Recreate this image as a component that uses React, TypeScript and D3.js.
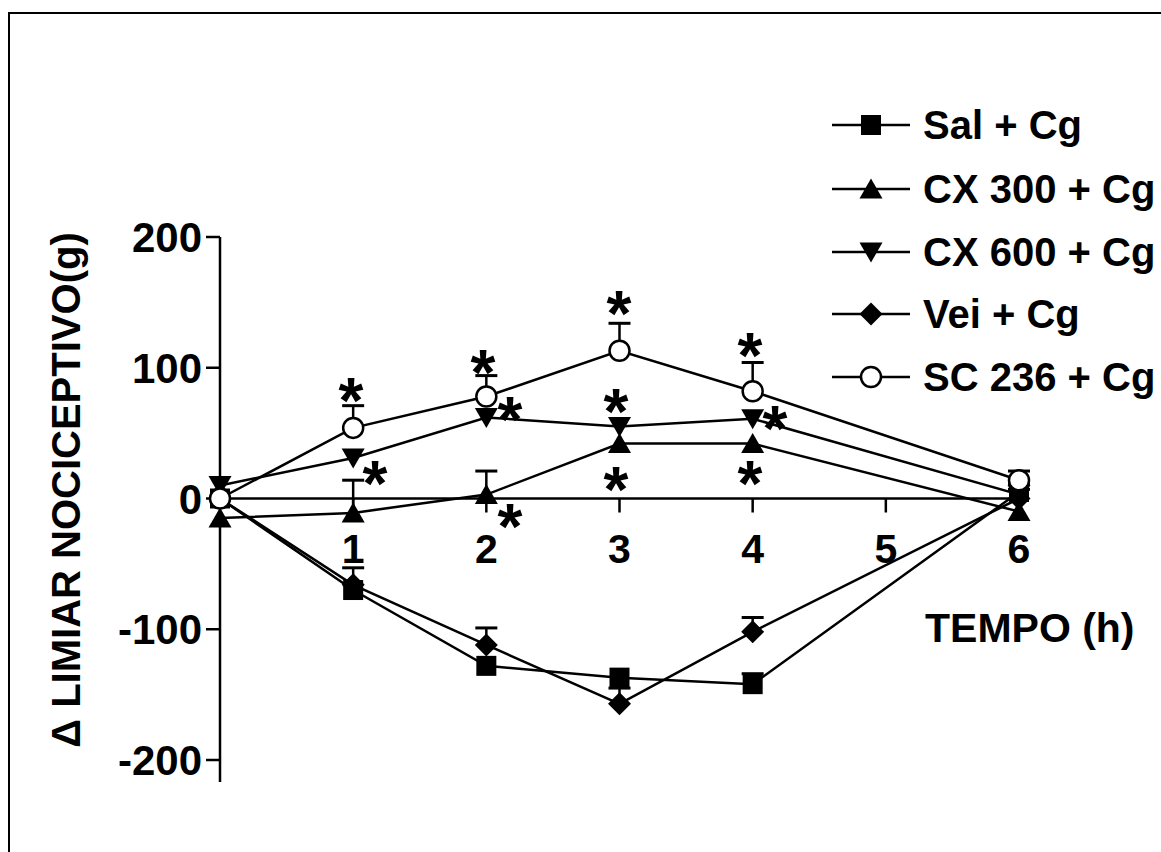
import React from "react";
import * as d3 from "d3";

const hours = [0, 1, 2, 3, 4, 6];
const seriesNames = ["Sal + Cg", "CX 300 + Cg", "CX 600 + Cg", "Vei + Cg", "SC 236 + Cg"];
const seriesSymbols = ["square", "triangleUp", "triangleDown", "diamond", "circleOpen"];
const salMean = [0, -70, -128, -137, -142, 5];
const salErr = [0, 17, 0, 0, 8, 6];
const cx300Mean = [-15, -11, 3, 42, 42, -10];
const cx300Err = [0, 25, 18, 0, 0, 0];
const cx600Mean = [10, 31, 62, 55, 61, 3];
const cx600Err = [0, 0, 0, 0, 0, 4];
const veiMean = [0, -66, -112, -157, -102, 0];
const veiErr = [0, 0, 13, 12, 11, 0];
const scMean = [0, 54, 78, 113, 82, 14];
const scErr = [0, 17, 16, 21, 22, 7];
const xTicks = [1, 2, 3, 4, 5, 6];
const yTicks = [200, 100, 0, -100, -200];
const starHours = [0.984, 1.164, 1.975, 2.178, 2.178, 2.996, 2.974, 2.974, 3.98, 4.168, 3.98];
const starValues = [85, 22, 107, 71, -11, 152, 77, 17, 120, 64, 22];

const means = [salMean, cx300Mean, cx600Mean, veiMean, scMean];
const errs = [salErr, cx300Err, cx600Err, veiErr, scErr];

const FONT = "'Liberation Sans', Arial, Helvetica, sans-serif";

function Marker({ kind, x, y }: { kind: string; x: number; y: number }) {
  if (kind === "square") return <rect x={x - 10} y={y - 10} width={20} height={20} fill="#000" />;
  if (kind === "triangleUp")
    return <path d={`M${x},${y - 10.5} L${x + 11.5},${y + 9.5} L${x - 11.5},${y + 9.5} Z`} fill="#000" />;
  if (kind === "triangleDown")
    return <path d={`M${x},${y + 10.5} L${x + 11.5},${y - 9.5} L${x - 11.5},${y - 9.5} Z`} fill="#000" />;
  if (kind === "diamond")
    return <path d={`M${x},${y - 11.5} L${x + 11.5},${y} L${x},${y + 11.5} L${x - 11.5},${y} Z`} fill="#000" />;
  return <circle cx={x} cy={y} r={10} fill="#fff" stroke="#000" strokeWidth={2.5} />;
}

export default function App() {
  const x = d3.scaleLinear().domain([0, 6]).range([220, 1019]);
  const y = d3.scaleLinear().domain([200, -200]).range([237, 760]);
  const line = d3
    .line<number>()
    .x((_, i) => x(hours[i]))
    .y((d) => y(d));

  const legendY = [125, 189, 252, 314, 377];

  return (
    <svg width={1161} height={852} style={{ position: "absolute", left: 0, top: 0, background: "#fff" }}>
      <rect x={0} y={0} width={1161} height={852} fill="#fff" />
      <path d="M9,852 L9,13 L1161,13" fill="none" stroke="#000" strokeWidth={2} />

      {/* axes */}
      <line x1={x(0)} x2={x(0)} y1={y(200)} y2={782} stroke="#000" strokeWidth={2.5} />
      <line x1={x(0)} x2={x(6)} y1={y(0)} y2={y(0)} stroke="#000" strokeWidth={2.5} />
      {yTicks.map((t) => (
        <g key={t}>
          <line x1={x(0) - 14} x2={x(0)} y1={y(t)} y2={y(t)} stroke="#000" strokeWidth={2.5} />
          <text x={202} y={y(t) + 15} textAnchor="end" fontFamily={FONT} fontWeight="bold" fontSize={42}>
            {t}
          </text>
        </g>
      ))}
      {xTicks.map((t) => (
        <g key={t}>
          <line x1={x(t)} x2={x(t)} y1={y(0)} y2={y(0) + 14} stroke="#000" strokeWidth={2.5} />
          <text x={x(t)} y={563} textAnchor="middle" fontFamily={FONT} fontWeight="bold" fontSize={41}>
            {t}
          </text>
        </g>
      ))}
      <text x={925} y={642} fontFamily={FONT} fontWeight="bold" fontSize={41}>
        TEMPO (h)
      </text>
      <text
        transform={`translate(80,490) rotate(-90)`}
        textAnchor="middle"
        fontFamily={FONT}
        fontWeight="bold"
        fontSize={40}
      >
        Δ LIMIAR NOCICEPTIVO(g)
      </text>

      {/* series lines */}
      {means.map((m, si) => (
        <path key={si} d={line(m) || ""} fill="none" stroke="#000" strokeWidth={2.5} />
      ))}
      {/* error bars */}
      {means.map((m, si) =>
        m.map((v, i) =>
          errs[si][i] > 0 ? (
            <g key={`${si}-${i}`}>
              <line x1={x(hours[i])} x2={x(hours[i])} y1={y(v)} y2={y(v + errs[si][i])} stroke="#000" strokeWidth={2.5} />
              <line
                x1={x(hours[i]) - 11}
                x2={x(hours[i]) + 11}
                y1={y(v + errs[si][i])}
                y2={y(v + errs[si][i])}
                stroke="#000"
                strokeWidth={3}
              />
            </g>
          ) : null
        )
      )}
      {/* markers */}
      {means.map((m, si) =>
        m.map((v, i) => <Marker key={`m${si}-${i}`} kind={seriesSymbols[si]} x={x(hours[i])} y={y(v)} />)
      )}
      {/* significance stars */}
      {starHours.map((h, i) => (
        <text
          key={`s${i}`}
          x={x(h)}
          y={y(starValues[i]) + 36}
          textAnchor="middle"
          fontFamily={FONT}
          fontWeight="bold"
          fontSize={64}
        >
          *
        </text>
      ))}

      {/* legend */}
      {seriesNames.map((n, i) => (
        <g key={n}>
          <line x1={832} x2={910} y1={legendY[i]} y2={legendY[i]} stroke="#000" strokeWidth={2.5} />
          <Marker kind={seriesSymbols[i]} x={871} y={legendY[i]} />
          <text x={923} y={legendY[i] + 14} fontFamily={FONT} fontWeight="bold" fontSize={40}>
            {n}
          </text>
        </g>
      ))}
    </svg>
  );
}
